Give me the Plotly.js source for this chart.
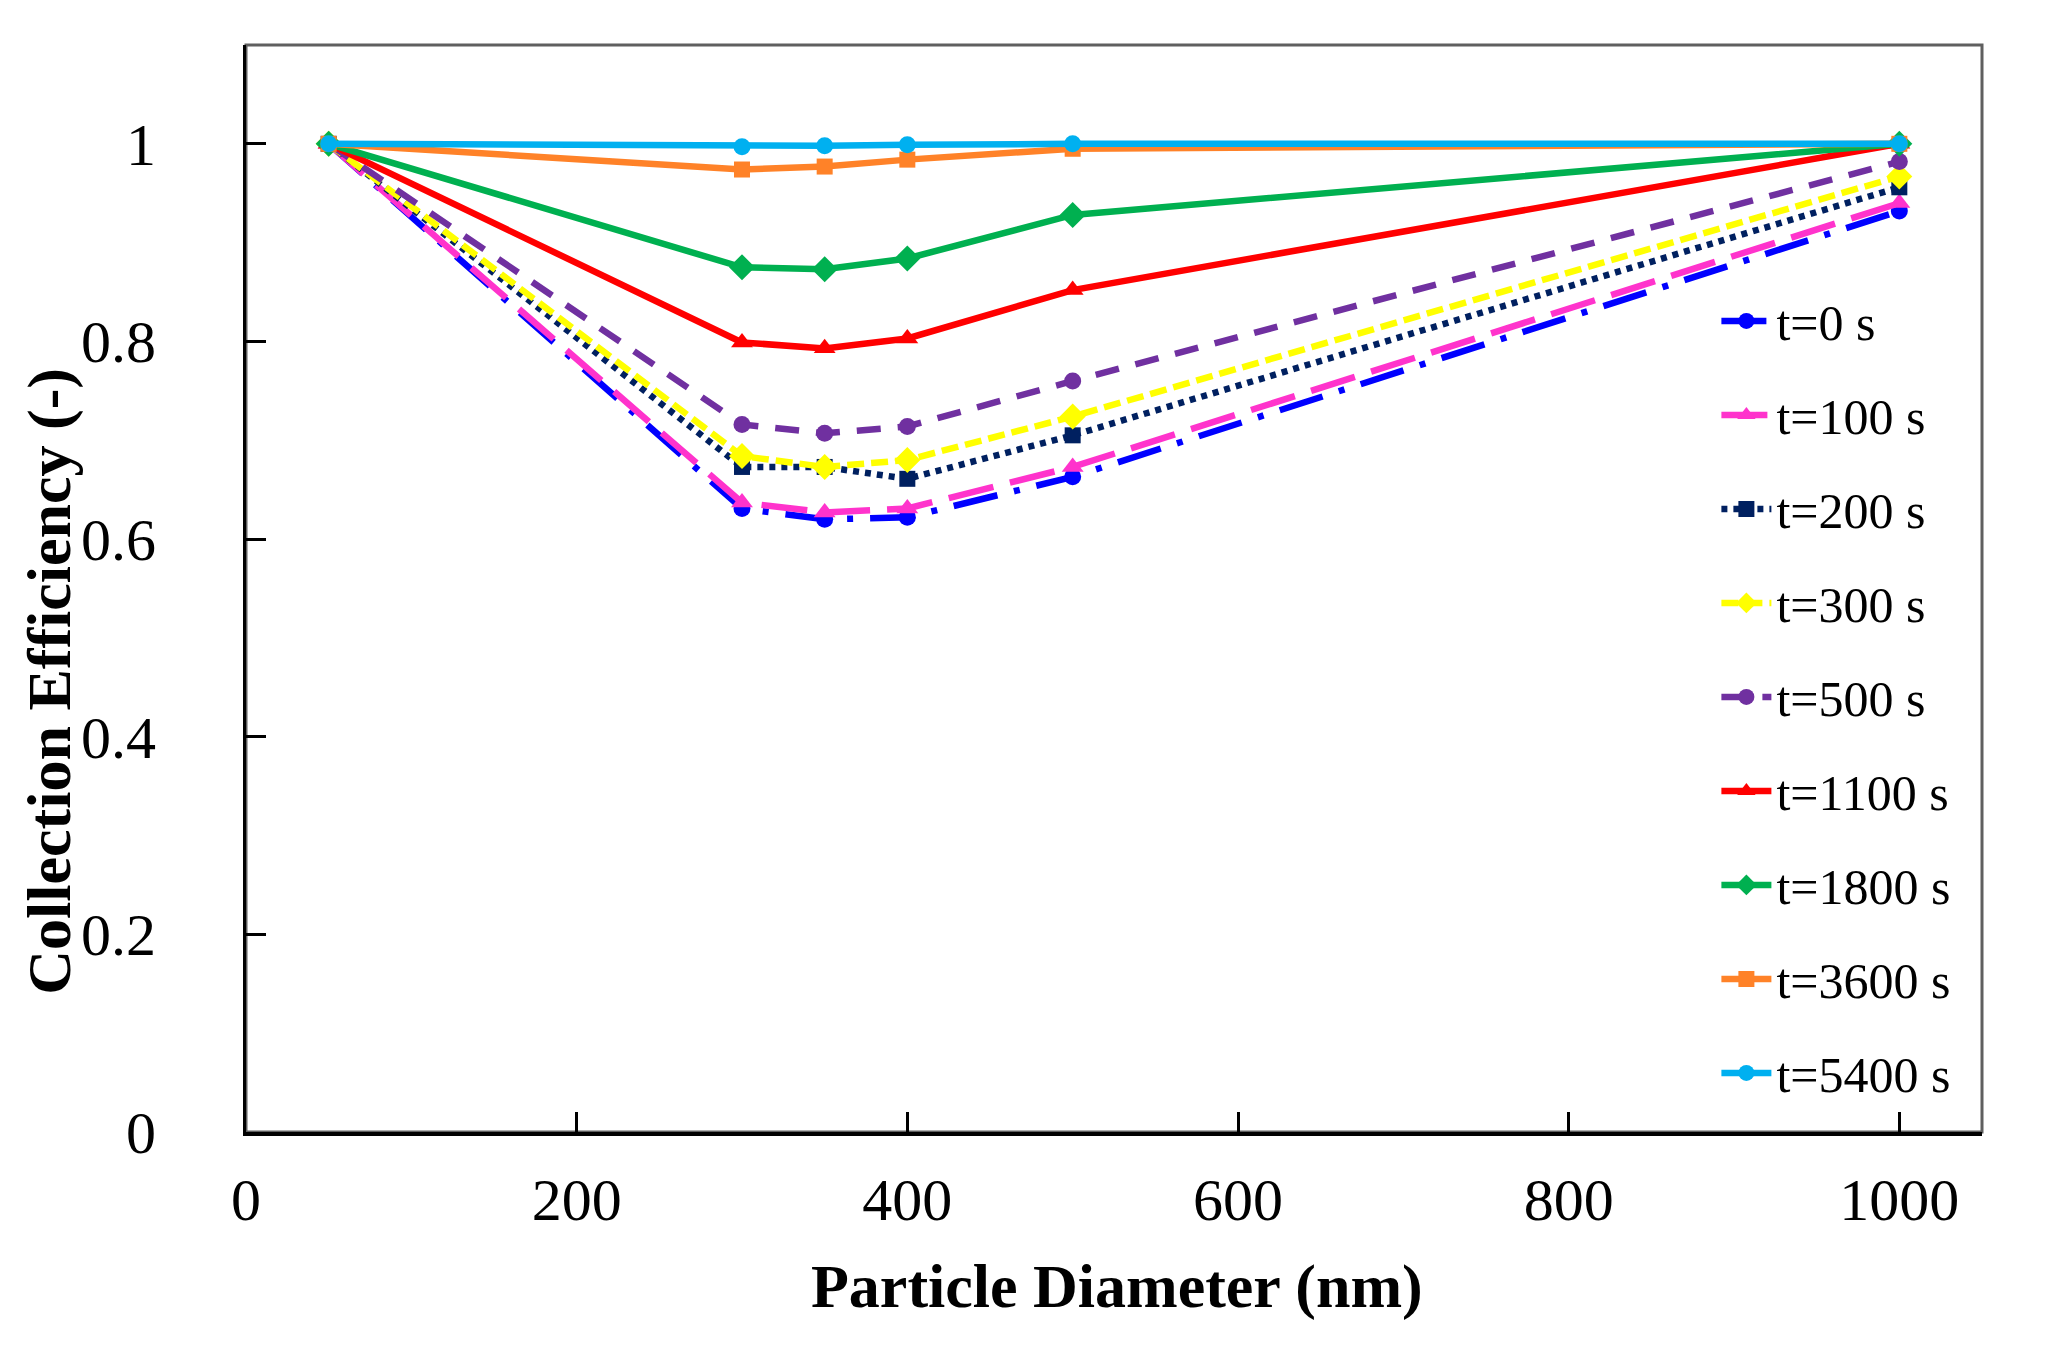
<!DOCTYPE html>
<html>
<head>
<meta charset="utf-8">
<script src="https://cdn.plot.ly/plotly-3.0.1.min.js"></script>
<style>
  html, body { margin: 0; padding: 0; background: #fff; }
  #chart { width: 2055px; height: 1353px; }
</style>
</head>
<body>
<div id="chart"></div>
<script>
// particle diameters (nm)
var diameters = [50, 300, 350, 400, 500, 1000];

// collection efficiency, one list per time
var eff_t0    = [1.000, 0.631, 0.620, 0.622, 0.663, 0.932];
var eff_t100  = [1.000, 0.637, 0.627, 0.631, 0.673, 0.940];
var eff_t200  = [1.000, 0.673, 0.673, 0.661, 0.705, 0.956];
var eff_t300  = [1.000, 0.684, 0.673, 0.680, 0.724, 0.967];
var eff_t500  = [1.000, 0.716, 0.707, 0.714, 0.760, 0.982];
var eff_t1100 = [1.000, 0.799, 0.793, 0.803, 0.852, 1.000];
var eff_t1800 = [1.000, 0.875, 0.873, 0.884, 0.928, 1.000];
var eff_t3600 = [1.000, 0.974, 0.977, 0.984, 0.995, 1.000];
var eff_t5400 = [1.000, 0.997, 0.998, 0.999, 1.000, 1.000];

var seriesNames = ['t=0 s', 't=100 s', 't=200 s', 't=300 s', 't=500 s',
                   't=1100 s', 't=1800 s', 't=3600 s', 't=5400 s'];
var seriesValues = [eff_t0, eff_t100, eff_t200, eff_t300, eff_t500,
                    eff_t1100, eff_t1800, eff_t3600, eff_t5400];

var xTicks = [0, 200, 400, 600, 800, 1000];
var yTicks = [0, 0.2, 0.4, 0.6, 0.8, 1];

// look of each series
var styles = [
  {color: '#0000FF', dash: '45px,17px,6px,17px', symbol: 'circle', size: 17},
  {color: '#FF33CC', dash: '46px,17px', symbol: 'triangle-up', size: 19},
  {color: '#002060', dash: '6px,6px', symbol: 'square', size: 16},
  {color: '#FFFF00', dash: '17px,7px', symbol: 'diamond', size: 20},
  {color: '#7030A0', dash: '24px,17px', symbol: 'circle', size: 17},
  {color: '#FF0000', dash: 'solid', symbol: 'triangle-up', size: 19},
  {color: '#00B050', dash: 'solid', symbol: 'diamond', size: 20},
  {color: '#FF8228', dash: 'solid', symbol: 'square', size: 16},
  {color: '#00B0F0', dash: 'solid', symbol: 'circle', size: 17}
];

var serif = 'Liberation Serif, Times New Roman, serif';

var data = seriesNames.map(function (name, i) {
  var s = styles[i];
  return {
    x: diameters,
    y: seriesValues[i],
    name: name,
    legendgroup: 'g' + i,
    type: 'scatter',
    mode: 'lines+markers',
    line: {color: s.color, width: 6.5, dash: s.dash},
    marker: {color: s.color, symbol: s.symbol, size: s.size}
  };
});

var layout = {
  width: 2055,
  height: 1353,
  margin: {l: 246, r: 73, t: 45, b: 221},
  paper_bgcolor: '#ffffff',
  plot_bgcolor: '#ffffff',
  font: {family: serif, size: 60, color: '#000000'},
  showlegend: true,
  legend: {
    x: 0.847, xanchor: 'left',
    y: 0.782, yanchor: 'top',
    bgcolor: 'rgba(0,0,0,0)',
    font: {family: serif, size: 50, color: '#000000'},
    itemwidth: 50,
    traceorder: 'grouped',
    tracegroupgap: 26
  },
  xaxis: {
    range: [0, 1050],
    tickvals: xTicks,
    ticktext: xTicks.map(String),
    ticks: 'inside',
    ticklen: 20,
    tickwidth: 3,
    tickcolor: '#000000',
    showline: true,
    linecolor: '#000000',
    linewidth: 4,
    showgrid: false,
    zeroline: false,
    ticklabelstandoff: 12,
    tickfont: {family: serif, size: 60, color: '#000000'}
  },
  yaxis: {
    range: [0, 1.1],
    tickvals: yTicks,
    ticktext: yTicks.map(String),
    ticks: 'inside',
    ticklen: 20,
    tickwidth: 3,
    tickcolor: '#000000',
    showline: true,
    linecolor: '#000000',
    linewidth: 3,
    showgrid: false,
    zeroline: false,
    ticklabelstandoff: 75,
    tickfont: {family: serif, size: 60, color: '#000000'}
  },
  shapes: [{
    type: 'rect', xref: 'paper', yref: 'paper',
    x0: 0, x1: 1, y0: 0, y1: 1,
    line: {color: '#5f5f5f', width: 3},
    layer: 'below'
  }],
  annotations: [
    {
      text: '<b>Particle Diameter (nm)</b>',
      xref: 'paper', yref: 'paper',
      x: 0.502, y: -0.142, xanchor: 'center', yanchor: 'middle',
      showarrow: false,
      font: {family: serif, size: 62, color: '#000000'}
    },
    {
      text: '<b>Collection Efficiency (-)</b>',
      xref: 'paper', yref: 'paper',
      x: -0.113, y: 0.415, xanchor: 'center', yanchor: 'middle',
      textangle: -90,
      showarrow: false,
      font: {family: serif, size: 62, color: '#000000'}
    }
  ]
};

Plotly.newPlot('chart', data, layout, {displayModeBar: false, staticPlot: true});
</script>
</body>
</html>
